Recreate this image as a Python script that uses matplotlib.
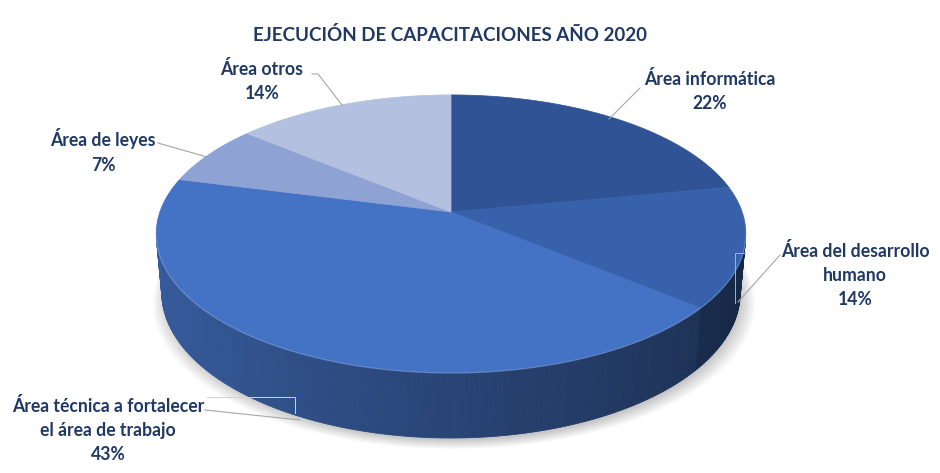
import numpy as np
import matplotlib.pyplot as plt
from matplotlib.colors import to_rgb
from matplotlib.patches import Polygon

labels = ["Área informática", "Área del desarrollo\nhumano",
          "Área técnica a fortalecer\nel área de trabajo", "Área de leyes", "Área otros"]
values = [22, 14, 43, 7, 14]
top_colors = ["#2F5395", "#3762AB", "#4472C4", "#8FA2D4", "#B4C0DF"]

# label placement (pixel coords) and leader lines
label_pos = [(710, 91), (855, 275), (108, 430), (103, 151), (262, 81)]
leader_pts = [[(640, 88), (609, 119)],
              [(780, 255), (738, 302)],
              [(205, 410), (300, 420)],
              [(158, 143), (207, 157)],
              [(312, 74), (318, 74), (342, 105)]]

# simple perspective camera
s = 0.465
c = np.sqrt(1 - s * s)
dist = 5.66
scale = 1648
cx, cy = 451, 212
thick = 0.231


def project(x, y, z=0.0):
    ry = y + dist * c
    rz = z - dist * s
    depth = ry * c - rz * s
    return cx + scale * x / depth, cy - scale * (ry * s + rz * c) / depth


def rim(t, z=0.0):
    return project(np.cos(t), np.sin(t), z)


fig = plt.figure(figsize=(9.4, 4.73), dpi=100)
ax = fig.add_axes([0, 0, 1, 1])
ax.set_xlim(0, 940)
ax.set_ylim(473, 0)
ax.axis("off")

# soft shadow under the pie
ts = np.linspace(0, 2 * np.pi, 240)
for k in range(14):
    px, py = rim(ts, -thick)
    px = cx + (px - cx) * (0.99 + 0.004 * k) + 3
    py = py + 2 + k * 0.7
    ax.add_patch(Polygon(np.column_stack([px, py]), closed=True, fc="#000000",
                         ec="none", alpha=0.016, zorder=0))

cum = np.concatenate([[0], np.cumsum(values)]) / sum(values)
t_start = np.radians(90 - 360 * cum[:-1])
t_end = np.radians(90 - 360 * cum[1:])

# visible part of the side wall
lim = np.arcsin(1 / (dist * c))
vis_lo, vis_hi = -np.pi + lim, -lim

for i in range(len(values)):
    base = np.array(to_rgb(top_colors[i]))
    for off in (0, 2 * np.pi, -2 * np.pi):
        a = max(t_end[i] + off, vis_lo)
        b = min(t_start[i] + off, vis_hi)
        if a >= b:
            continue
        steps = np.append(np.arange(a, b, np.radians(0.8)), b)
        for t0, t1 in zip(steps[:-1], steps[1:]):
            f = 0.6 - 0.2 * np.cos(0.5 * (t0 + t1))
            col = np.clip(base * f, 0, 1)
            x0, y0 = rim(t0)
            x1, y1 = rim(t1)
            x2, y2 = rim(t1, -thick)
            x3, y3 = rim(t0, -thick)
            ax.add_patch(Polygon([(x0, y0), (x1, y1), (x2, y2), (x3, y3)],
                                 closed=True, fc=col, ec=col, lw=0.6, zorder=2))

# top face
ox, oy = project(0, 0)
for i in range(len(values)):
    ts = np.linspace(t_start[i], t_end[i], 120)
    px, py = rim(ts)
    pts = np.column_stack([np.concatenate([[ox], px]), np.concatenate([[oy], py])])
    ax.add_patch(Polygon(pts, closed=True, fc=top_colors[i], ec=top_colors[i],
                         lw=0.5, zorder=3))

# light highlight along the front rim
ts = np.linspace(vis_lo, vis_hi, 200)
px, py = rim(ts)
ax.plot(px, py + 0.5, color="#7FA2E0", lw=0.9, alpha=0.6, zorder=4)

# leader lines (with the little boxes excel leaves behind)
for pts in leader_pts:
    xs, ys = zip(*pts)
    ax.plot(xs, ys, color="#A6A6A6", lw=0.8, zorder=5)
ax.plot([745, 735, 735], [253, 253, 303], color="#B0B0B0", lw=0.7, zorder=5)
ax.plot([207, 295, 295], [397, 397, 413], color="#D0D0D0", lw=0.7, zorder=5)

txt_color = "#1F3864"
for i in range(len(values)):
    lx, ly = label_pos[i]
    ax.text(lx, ly, f"{labels[i]}\n{values[i]}%", ha="center", va="center",
            fontsize=12.7, fontweight="bold", color=txt_color,
            family=["Lato", "DejaVu Sans"], linespacing=1.52, zorder=6)

ax.text(450, 35, "EJECUCIÓN DE CAPACITACIONES AÑO 2020", ha="center", va="center",
        fontsize=13.5, fontweight="bold", color=txt_color,
        family=["Lato", "DejaVu Sans"])

fig.savefig("out.png", dpi=100, facecolor="white")
